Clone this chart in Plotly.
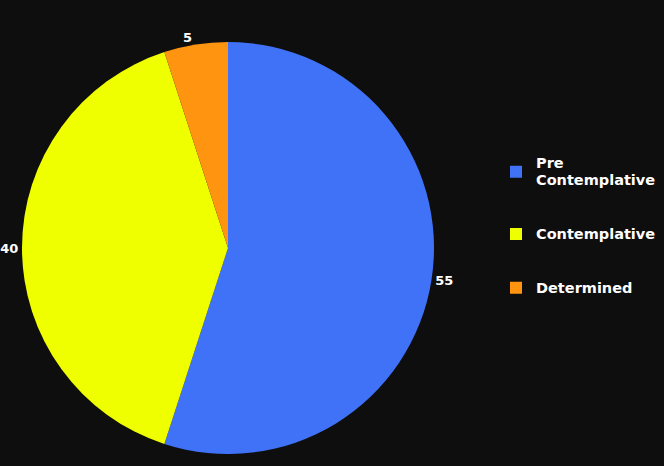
import plotly.graph_objects as go

labels = ["Pre<br>Contemplative", "Contemplative", "Determined"]
values = [55, 40, 5]
colors = ["#3f72f6", "#f0ff00", "#ff9410"]

# blank lines pad legend entries so their spacing matches the reference
pad = "\u00a0"
def lg(lines):
    body = "<br>".join(f"<span style='font-size:14.5px'>{t}</span>" for t in lines.split("<br>"))
    return f"{pad}<br>{body}<br>{pad}"
legend_labels = [lg(t) for t in labels]

W, H = 664, 466
cx, cy, r = 228, 248, 206

fig = go.Figure(go.Pie(
    labels=legend_labels,
    values=values,
    marker=dict(colors=colors, line=dict(width=0)),
    sort=False,
    direction="clockwise",
    rotation=0,
    textinfo="value",
    textposition="outside",
    textfont=dict(color="white", size=13, family="DejaVu Sans", weight="bold"),
    hoverinfo="value",
    domain=dict(x=[(cx - r) / W, (cx + r) / W],
                y=[(H - cy - r) / H, (H - cy + r) / H]),
))

fig.update_layout(
    width=W, height=H,
    margin=dict(l=0, r=0, t=0, b=0, autoexpand=False),
    paper_bgcolor="#0e0e0e",
    plot_bgcolor="#0e0e0e",
    showlegend=True,
    legend=dict(
        x=496 / W, y=0.516, xanchor="left", yanchor="middle",
        font=dict(color="white", size=13, family="DejaVu Sans", weight="bold"),
        bgcolor="rgba(0,0,0,0)",
        traceorder="normal",
    ),
)

fig.write_html("out.html")
